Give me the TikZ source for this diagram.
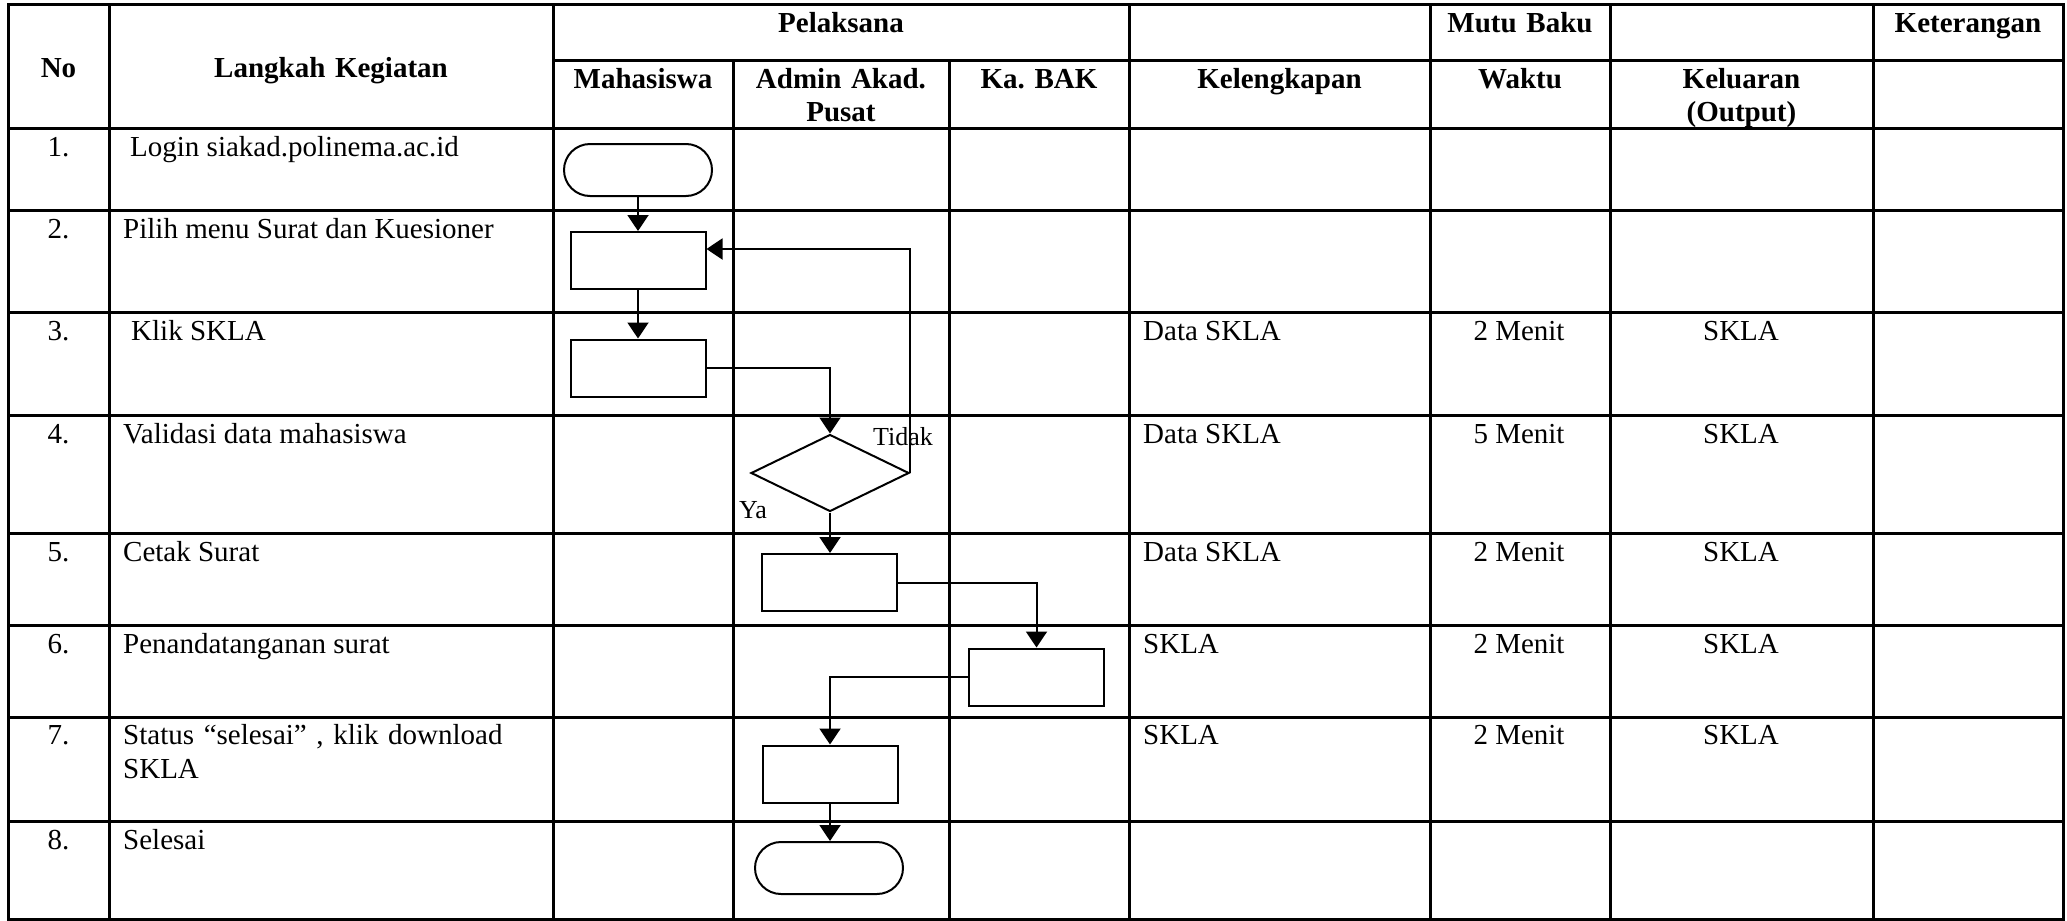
\documentclass[tikz,border=0pt]{standalone}
\usepackage{fontspec}
\setmainfont{Liberation Serif}
\frenchspacing
\usetikzlibrary{shapes.geometric,arrows.meta}
\begin{document}
\begin{tikzpicture}[x=1pt,y=-1pt,
  grid/.style={line width=3pt, line cap=rect},
  txt/.style={font=\fontsize{29}{34}\selectfont\frenchspacing, inner sep=0pt, anchor=base west},
  ctr/.style={font=\fontsize{29}{34}\selectfont\frenchspacing, inner sep=0pt, anchor=base},
  hd/.style={font=\fontsize{29}{33}\selectfont\bfseries\frenchspacing, inner sep=0pt, anchor=base, text width=320pt, align=center},
  lbl/.style={font=\fontsize{26}{30}\selectfont, inner sep=0pt, anchor=base west},
  proc/.style={draw, line width=2pt, minimum width=135pt, minimum height=57pt, inner sep=0pt},
  term/.style={draw, line width=2pt, rectangle, rounded corners=26pt, minimum width=148pt, minimum height=52pt, inner sep=0pt},
  dec/.style={draw, line width=2pt, diamond, minimum width=158pt, minimum height=77pt, inner sep=0pt},
  arr/.style={line width=2pt, -{Triangle[length=16pt,width=21pt]}}
]
\useasboundingbox (0,0) rectangle (2067,921);
% table grid
\draw[grid] (8,4) rectangle (2063,919);
\draw[grid] (553,60) -- (2063,60);
\foreach \yy in {128,210,312,415,533,625,717,821} \draw[grid] (8,\yy) -- (2063,\yy);
\foreach \xx in {109,553,1129,1430,1610,1873} \draw[grid] (\xx,4) -- (\xx,919);
\foreach \xx in {733,949} \draw[grid] (\xx,60) -- (\xx,919);
% header
\node[hd] (hNo) at (58.5,77) {No};
\node[hd] (hLk) at (331,77) {Langkah Kegiatan};
\node[hd] (hPl) at (841,32) {Pelaksana};
\node[hd] (hMb) at (1520,32) {Mutu Baku};
\node[hd] (hKt) at (1968,32) {Keterangan};
\node[hd] (hMh) at (643,88) {Mahasiswa};
\node[hd] (hAd) at (841,88) {Admin Akad.\\Pusat};
\node[hd] (hKb) at (1039,88) {Ka. BAK};
\node[hd] (hKl) at (1279.5,88) {Kelengkapan};
\node[hd] (hWk) at (1520,88) {Waktu};
\node[hd] (hKo) at (1741.5,88) {Keluaran\\(Output)};
% numbers
\node[ctr] (n1) at (58.5,156) {1.};
\node[ctr] (n2) at (58.5,238) {2.};
\node[ctr] (n3) at (58.5,340) {3.};
\node[ctr] (n4) at (58.5,443) {4.};
\node[ctr] (n5) at (58.5,561) {5.};
\node[ctr] (n6) at (58.5,653) {6.};
\node[ctr] (n7) at (58.5,744) {7.};
\node[ctr] (n8) at (58.5,849) {8.};
% steps
\node[txt] (l1) at (130,156) {Login siakad.polinema.ac.id};
\node[txt] (l2) at (123,238) {Pilih menu Surat dan Kuesioner};
\node[txt] (l3) at (131,340) {Klik SKLA};
\node[txt] (l4) at (123,443) {Validasi data mahasiswa};
\node[txt] (l5) at (123,561) {Cetak Surat};
\node[txt] (l6) at (123,653) {Penandatanganan surat};
\node[txt, text width=420pt, align=left] (l7) at (123,744) {Status “selesai” , klik download\\SKLA};
\node[txt] (l8) at (123,849) {Selesai};
% kelengkapan
\node[txt] (k3) at (1143,340) {Data SKLA};
\node[txt] (k4) at (1143,443) {Data SKLA};
\node[txt] (k5) at (1143,561) {Data SKLA};
\node[txt] (k6) at (1143,653) {SKLA};
\node[txt] (k7) at (1143,744) {SKLA};
% waktu
\node[ctr] (w3) at (1519,340) {2 Menit};
\node[ctr] (w4) at (1519,443) {5 Menit};
\node[ctr] (w5) at (1519,561) {2 Menit};
\node[ctr] (w6) at (1519,653) {2 Menit};
\node[ctr] (w7) at (1519,744) {2 Menit};
% keluaran
\node[ctr] (o3) at (1741,340) {SKLA};
\node[ctr] (o4) at (1741,443) {SKLA};
\node[ctr] (o5) at (1741,561) {SKLA};
\node[ctr] (o6) at (1741,653) {SKLA};
\node[ctr] (o7) at (1741,744) {SKLA};
% flow shapes
\node[term] (st) at (638,170) {};
\node[proc] (p2) at (638,260.5) {};
\node[proc] (p3) at (638,368) {};
\node[dec] (d) at (830,473) {};
\node[proc] (p5) at (829,582.5) {};
\node[proc] (p6) at (1036.5,677) {};
\node[proc] (p7) at (830,774) {};
\node[term] (en) at (829,868) {};
% connectors
\draw[arr] (st) -- (p2);
\draw[arr] (p2) -- (p3);
\draw[arr] (p3.east) -| (d.north);
\draw[arr] (d.south) -- (d.south |- p5.north);
\draw[arr] (d.east) |- ([yshift=11.5pt]p2.east);
\draw[arr] (p5.east) -| (p6.north);
\draw[arr] (p6.west) -| (p7.north);
\draw[arr] (p7.south) -- (p7.south |- en.north);
% labels
\node[lbl] (tidak) at (873,445) {Tidak};
\node[lbl] (ya) at (739,518) {Ya};
\end{tikzpicture}
\end{document}
